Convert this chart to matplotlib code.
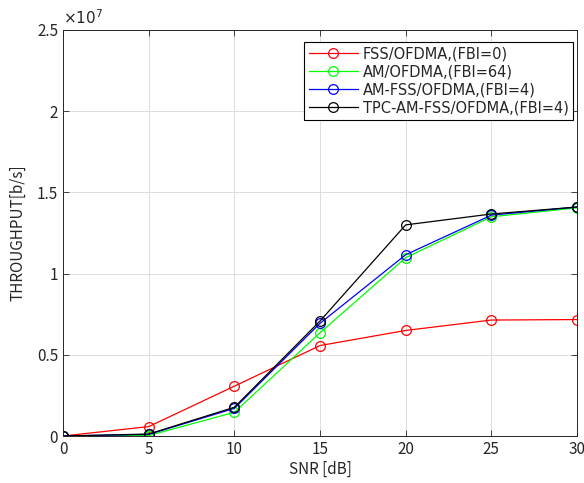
import matplotlib
matplotlib.use('Agg')
import matplotlib.pyplot as plt
from matplotlib.ticker import FuncFormatter

plt.rcParams['font.family'] = ['Noto Sans CJK JP', 'DejaVu Sans']

snr = [0, 5, 10, 15, 20, 25, 30]
fss = [0.0, 0.058, 0.307, 0.557, 0.650, 0.714, 0.717]
am = [0.0, 0.003, 0.146, 0.636, 1.098, 1.350, 1.405]
am_fss = [0.0, 0.010, 0.170, 0.694, 1.116, 1.360, 1.410]
tpc = [0.0, 0.012, 0.177, 0.708, 1.300, 1.367, 1.410]
labels = ['FSS/OFDMA,(FBI=0)', 'AM/OFDMA,(FBI=64)',
          'AM-FSS/OFDMA,(FBI=4)', 'TPC-AM-FSS/OFDMA,(FBI=4)']
colors = ['#ff0000', '#00ff00', '#0000ff', '#000000']
scale = 1e7

fig = plt.figure(figsize=(5.84, 4.83), dpi=100, facecolor='w')
ax = fig.add_axes([0.108, 0.0973, 0.880, 0.8406])

for ys, lab, c in zip([fss, am, am_fss, tpc], labels, colors):
    ax.plot(snr, [v * scale for v in ys], color=c, lw=0.9, marker='o',
            ms=7, mfc='none', mec=c, mew=0.9, label=lab)

ax.set_xlim(0, 30)
ax.set_ylim(0, 2.5e7)
ax.set_xticks(snr)
ax.set_yticks([0, 0.5e7, 1e7, 1.5e7, 2e7, 2.5e7])
ax.yaxis.set_major_formatter(FuncFormatter(lambda v, p: '%g' % (v / scale)))
ax.tick_params(direction='in', length=4, width=0.6, colors='#262626',
               labelsize=11, top=True, right=True)
ax.grid(True, color='#dcdcdc', lw=0.7)
ax.set_axisbelow(True)
for s in ax.spines.values():
    s.set_color('#262626')
    s.set_linewidth(0.7)
ax.text(0.0, 1.005, r'$\times10^7$', transform=ax.transAxes, fontsize=11,
        color='#262626', ha='left', va='bottom')
ax.set_xlabel('SNR [dB]', fontsize=11, color='#262626', labelpad=2)
ax.set_ylabel('THROUGHPUT[b/s]', fontsize=11, color='#262626', labelpad=8)

leg = ax.legend(loc='upper right', bbox_to_anchor=(0.992, 0.970),
                prop={'family': 'DejaVu Sans', 'size': 10.5},
                fancybox=False, framealpha=1, edgecolor='k',
                handlelength=3.4, borderpad=0.3, labelspacing=0.2,
                handletextpad=0.3, borderaxespad=0)
leg.get_frame().set_linewidth(0.8)
for t in leg.get_texts():
    t.set_color('#262626')

fig.savefig('out.png', dpi=100)
